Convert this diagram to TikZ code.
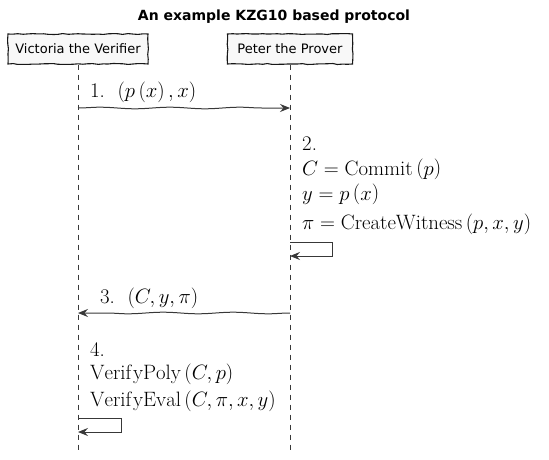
\documentclass[tikz,border=0pt]{standalone}
\usepackage{amsmath}
\usepackage{fontspec}
\setsansfont{DejaVu Sans}
\usetikzlibrary{decorations.pathmorphing,arrows.meta}
\definecolor{boxfill}{HTML}{F8F8F8}
\definecolor{linecol}{HTML}{181818}
\definecolor{arrcol}{HTML}{383838}
\begin{document}
\begin{tikzpicture}[x=1pt,y=-1pt,
  actor/.style={draw=linecol, fill=boxfill, line width=1.1pt,
    font=\sffamily\fontsize{13}{15}\selectfont, minimum height=30pt,
    inner xsep=6pt, decorate,
    decoration={random steps,segment length=5pt,amplitude=0.5pt}},
  life/.style={draw=arrcol, dash pattern=on 5pt off 5pt, line width=0.6pt},
  msg/.style={draw=arrcol, line width=1pt,
    decoration={snake, amplitude=0.8pt, segment length=70pt, post length=9pt},
    decorate, -{Stealth[length=10pt,width=8pt,inset=3.5pt]}},
  selfmsg/.style={draw=arrcol, line width=1pt,
    -{Stealth[length=10pt,width=8pt,inset=3.5pt]}},
  lbl/.style={font=\fontsize{20.8}{25}\selectfont, anchor=base west, inner sep=0pt},
]
\useasboundingbox (0,0) rectangle (549,460);

\node[font=\sffamily\bfseries\fontsize{14}{16}\selectfont] (title) at (274,17) {An example KZG10 based protocol};

\node[actor, minimum width=140pt] (vic) at (78,49) {Victoria the Verifier};
\node[actor, minimum width=125pt] (pet) at (290,49) {Peter the Prover};

\coordinate (vicend) at (78,452);
\coordinate (petend) at (290,452);
\draw[life] (vic.south) -- (vicend);
\draw[life] (pet.south) -- (petend);

% message 1
\coordinate (m1a) at (78,108);
\coordinate (m1b) at (290,108);
\draw[msg] (m1a) -- (m1b);
\node[lbl] (l1) at (90,98) {1.\ \ $\left(p\left(x\right),x\right)$};

% self message 2
\node[lbl] (n2a) at (302,150) {2.};
\node[lbl] (n2b) at (302,175) {$C=\operatorname{Commit}\left(p\right)$};
\node[lbl] (n2c) at (302,200) {$y=p\left(x\right)$};
\node[lbl] (n2d) at (302,229) {$\pi=\operatorname{CreateWitness}\left(p,x,y\right)$};
\coordinate (s2a) at (290,242);
\coordinate (s2b) at (290,256);
\draw[selfmsg] (s2a) -- ++(42,0) -- ++(0,14) -- (s2b);

% message 3
\coordinate (m3a) at (290,313);
\coordinate (m3b) at (78,313);
\draw[msg] (m3a) -- (m3b);
\node[lbl] (l3) at (100,303) {3.\ \ $\left(C,y,\pi\right)$};

% self message 4
\node[lbl] (n4a) at (90,356) {4.};
\node[lbl] (n4b) at (90,379) {$\operatorname{Verif\kern0.08em yPoly}\left(C,p\right)$};
\node[lbl] (n4c) at (90,406) {$\operatorname{Verif\kern0.08em yEval}\left(C,\pi,x,y\right)$};
\coordinate (s4a) at (78,418);
\coordinate (s4b) at (78,432);
\draw[selfmsg] (s4a) -- ++(43,0) -- ++(0,14) -- (s4b);
\end{tikzpicture}
\end{document}
